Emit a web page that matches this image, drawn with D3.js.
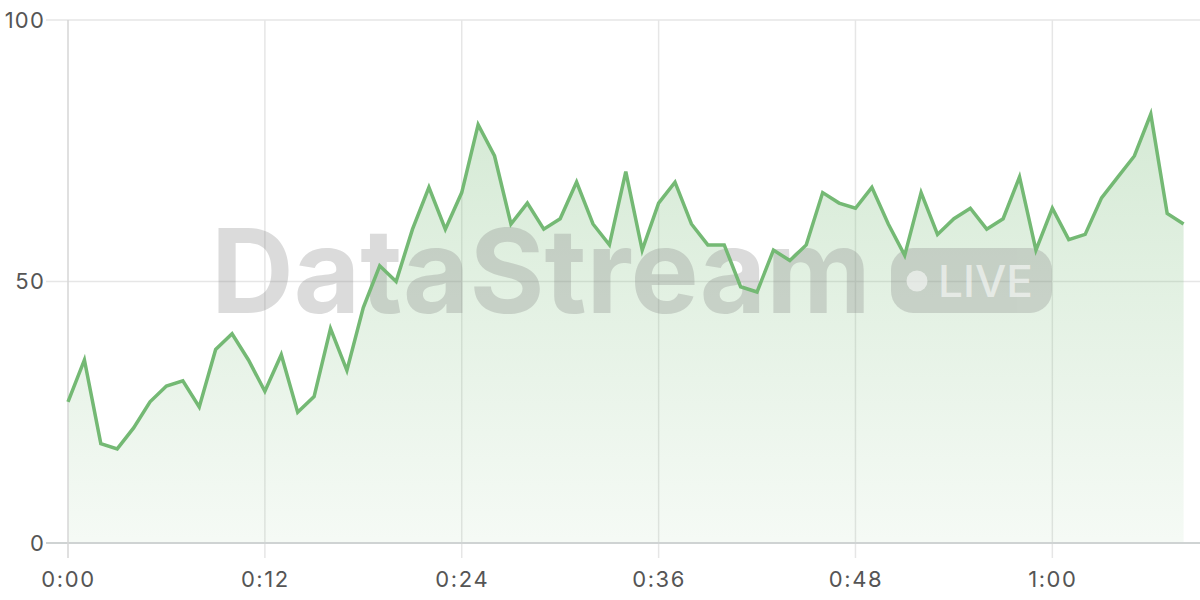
<!DOCTYPE html>
<html>
<head>
<meta charset="utf-8">
<script src="https://cdn.jsdelivr.net/npm/d3@7"></script>
<style>
  html, body { margin: 0; padding: 0; background: #ffffff; }
  svg { display: block; }
</style>
</head>
<body>
<svg id="chart" width="1200" height="600"></svg>
<script>
// ---- data ----
const seconds = d3.range(0, 69); // 0:00 .. 1:08
const values = [27, 35, 19, 18, 22, 27, 30, 31, 26, 37,
                40, 35, 29, 36, 25, 28, 41, 33, 45, 53,
                50, 60, 68, 60, 67, 80, 74, 61, 65, 60,
                62, 69, 61, 57, 71, 56, 65, 69, 61, 57,
                57, 49, 48, 56, 54, 57, 67, 65, 64, 68,
                61, 55, 67, 59, 62, 64, 60, 62, 70, 56,
                64, 58, 59, 66, 70, 74, 82, 63, 61];
const xTicks = [0, 12, 24, 36, 48, 60];
const yTicks = [0, 50, 100];
const watermarkText = "DataStream";
const badgeText = "LIVE";

const fmt = s => Math.floor(s / 60) + ":" + String(s % 60).padStart(2, "0");

const svg = d3.select("#chart");
const margin = { left: 68, right: 0, top: 20, bottom: 57 };
const W = 1200, H = 600;

const x = d3.scaleLinear().domain([0, 69]).range([margin.left, W - margin.right]);
const y = d3.scaleLinear().domain([0, 100]).range([H - margin.bottom, margin.top]);

// gradient
const defs = svg.append("defs");
const grad = defs.append("linearGradient").attr("id", "areaGrad")
  .attr("x1", 0).attr("y1", 0).attr("x2", 0).attr("y2", 1);
grad.append("stop").attr("offset", "0%").attr("stop-color", "rgb(116,185,116)").attr("stop-opacity", 0.3);
grad.append("stop").attr("offset", "100%").attr("stop-color", "rgb(116,185,116)").attr("stop-opacity", 0.07);

// horizontal grid
svg.append("g")
  .selectAll("line").data(yTicks.filter(d => d !== 0)).join("line")
  .attr("x1", margin.left - 22).attr("x2", W)
  .attr("y1", d => y(d)).attr("y2", d => y(d))
  .attr("stroke", "#e6e6e6").attr("stroke-width", 1.5);

// vertical grid
svg.append("g")
  .selectAll("line").data(xTicks.filter(d => d !== 0)).join("line")
  .attr("x1", d => x(d)).attr("x2", d => x(d))
  .attr("y1", y(100)).attr("y2", y(0) + 15)
  .attr("stroke", "#e6e6e6").attr("stroke-width", 1.5);

const data = seconds.map((s, i) => ({ s, v: values[i] }));

// area
svg.append("path").datum(data)
  .attr("fill", "url(#areaGrad)")
  .attr("d", d3.area().x(d => x(d.s)).y0(y(0)).y1(d => y(d.v)));

// watermark
const wm = svg.append("g").attr("opacity", 0.28);
wm.append("text")
  .attr("x", 211).attr("y", 313)
  .attr("font-family", "Inter, 'Liberation Sans', sans-serif")
  .attr("font-weight", 700)
  .attr("font-size", 117)
  .attr("textLength", 660).attr("lengthAdjust", "spacingAndGlyphs")
  .attr("fill", "#808080")
  .text(watermarkText);
wm.append("rect")
  .attr("x", 891).attr("y", 248).attr("width", 161).attr("height", 65).attr("rx", 22)
  .attr("fill", "#808080");
const badge = svg.append("g").attr("opacity", 0.55);
badge.append("circle").attr("cx", 917).attr("cy", 281).attr("r", 10.5).attr("fill", "#ffffff");
badge.append("text")
  .attr("x", 938).attr("y", 297)
  .attr("font-family", "Inter, 'Liberation Sans', sans-serif")
  .attr("font-weight", 500)
  .attr("font-size", 44)
  .attr("textLength", 95).attr("lengthAdjust", "spacingAndGlyphs")
  .attr("fill", "#ffffff")
  .text(badgeText);

// baseline & left axis line
svg.append("line")
  .attr("x1", margin.left - 22).attr("x2", W)
  .attr("y1", y(0)).attr("y2", y(0))
  .attr("stroke", "#cfd3d3").attr("stroke-width", 2);
svg.append("line")
  .attr("x1", x(0)).attr("x2", x(0))
  .attr("y1", y(100)).attr("y2", y(0) + 15)
  .attr("stroke", "#d6d6d6").attr("stroke-width", 1.5);

// line
svg.append("path").datum(data)
  .attr("fill", "none")
  .attr("stroke", "#74b974")
  .attr("stroke-width", 3.5)
  .attr("stroke-linejoin", "miter")
  .attr("d", d3.line().x(d => x(d.s)).y(d => y(d.v)));

// axis labels
const yAxis = d3.axisLeft(y).tickValues(yTicks).tickSize(0).tickPadding(23);
const gy = svg.append("g").attr("transform", `translate(${margin.left},0)`).call(yAxis);
gy.select(".domain").remove();
gy.selectAll("text").attr("font-family", "Inter, 'Noto Sans', sans-serif")
  .attr("font-size", 22).attr("letter-spacing", "1.2px").attr("fill", "#555");

const xAxis = d3.axisBottom(x).tickValues(xTicks).tickFormat(fmt).tickSize(0).tickPadding(28);
const gx = svg.append("g").attr("transform", `translate(0,${y(0)})`).call(xAxis);
gx.select(".domain").remove();
gx.selectAll("text").attr("font-family", "Inter, 'Noto Sans', sans-serif")
  .attr("font-size", 22).attr("letter-spacing", "1.6px").attr("fill", "#555");
</script>
</body>
</html>
